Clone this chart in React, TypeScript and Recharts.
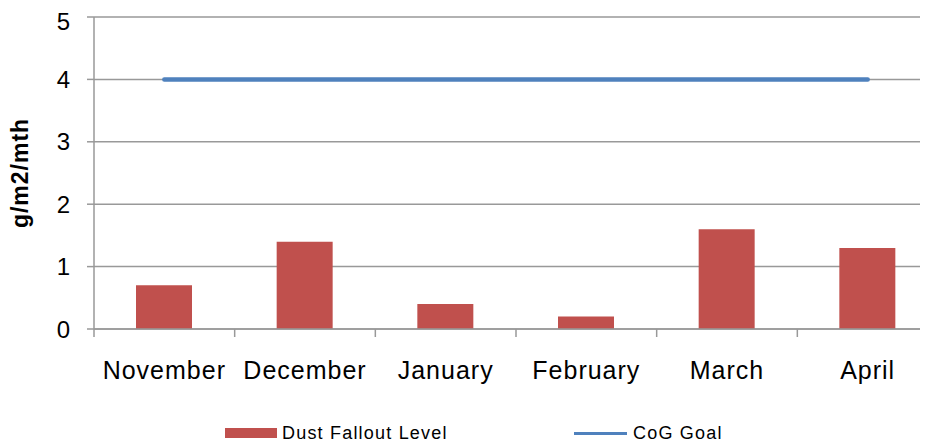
import React from 'react';
import { ComposedChart, Bar, Line, XAxis, YAxis, CartesianGrid } from 'recharts';

const months = ['November', 'December', 'January', 'February', 'March', 'April'];
const dustFallout = [0.7, 1.4, 0.4, 0.2, 1.6, 1.3];
const cogGoal = [4, 4, 4, 4, 4, 4];
const yTicks = [0, 1, 2, 3, 4, 5];

const data = months.map((month, i) => ({
  month,
  dust: dustFallout[i],
  goal: cogGoal[i],
}));

const FONT = '"Liberation Sans", Arial, sans-serif';
const GRID = '#999999';

// category tick: label in the middle, tick mark on the left edge of the band
const MonthTick = (props: any) => {
  const { x, y, payload } = props;
  const half = payload && payload.offset ? payload.offset : 70;
  return (
    <g>
      <line x1={x - half} y1={y - 8} x2={x - half} y2={y} stroke={GRID} strokeWidth={1.5} />
      <text x={x} y={y + 42} textAnchor="middle" fill="#000" fontSize={25} letterSpacing={1} fontFamily={FONT}>
        {payload.value}
      </text>
    </g>
  );
};

const YLabel = (props: any) => {
  const { viewBox } = props;
  const bx = 20;
  const cy = viewBox.y + viewBox.height / 2;
  return (
    <text
      x={bx}
      y={cy}
      transform={`rotate(-90 ${bx} ${cy})`}
      textAnchor="middle"
      fontSize={23}
      fontWeight="bold"
      letterSpacing={1}
      fontFamily={FONT}
      fill="#000"
    >
      g/m2/mth
    </text>
  );
};

export default function App() {
  return (
    <div style={{ position: 'relative', width: 912, height: 431 }}>
      <ComposedChart
        width={912}
        height={431}
        data={data}
        margin={{ top: 9, right: -8, bottom: 50, left: 26 }}
        barSize={56}
        style={{ overflow: 'visible' }}
      >
        <CartesianGrid vertical={false} stroke={GRID} strokeWidth={1.5} />
        <XAxis
          dataKey="month"
          height={60}
          padding={{ left: 0, right: -10 }}
          axisLine={{ stroke: GRID, strokeWidth: 1.5 }}
          tickLine={false}
          tickSize={8}
          tickMargin={0}
          interval={0}
          tick={<MonthTick />}
        />
        <YAxis
          width={60}
          domain={[0, 5]}
          ticks={yTicks}
          allowDataOverflow
          axisLine={{ stroke: GRID, strokeWidth: 1.5 }}
          tickLine={{ stroke: GRID, strokeWidth: 1.5 }}
          tickSize={7}
          tickMargin={17}
          tick={{ fill: '#000', fontSize: 24, fontFamily: FONT }}
          label={{ content: (p: any) => <YLabel {...p} /> }}
        />
        <Bar dataKey="dust" name="Dust Fallout Level" fill="#C0504D" isAnimationActive={false} />
        <Line
          dataKey="goal"
          name="CoG Goal"
          stroke="#4F81BD"
          strokeWidth={4.5}
          strokeLinecap="round"
          dot={false}
          activeDot={false}
          isAnimationActive={false}
        />
      </ComposedChart>
      <div
        style={{
          position: 'absolute',
          left: 217,
          top: 414,
          height: 22,
          display: 'flex',
          alignItems: 'center',
          fontFamily: FONT,
          fontSize: 18,
          letterSpacing: 1.2,
          color: '#000',
        }}
      >
        <span style={{ display: 'inline-block', width: 52, height: 10, background: '#C0504D', marginRight: 5 }} />
        <span style={{ width: 292, whiteSpace: 'nowrap' }}>Dust Fallout Level</span>
        <span style={{ display: 'inline-block', width: 53, height: 3, background: '#4F81BD', marginRight: 6 }} />
        <span style={{ whiteSpace: 'nowrap' }}>CoG Goal</span>
      </div>
    </div>
  );
}
